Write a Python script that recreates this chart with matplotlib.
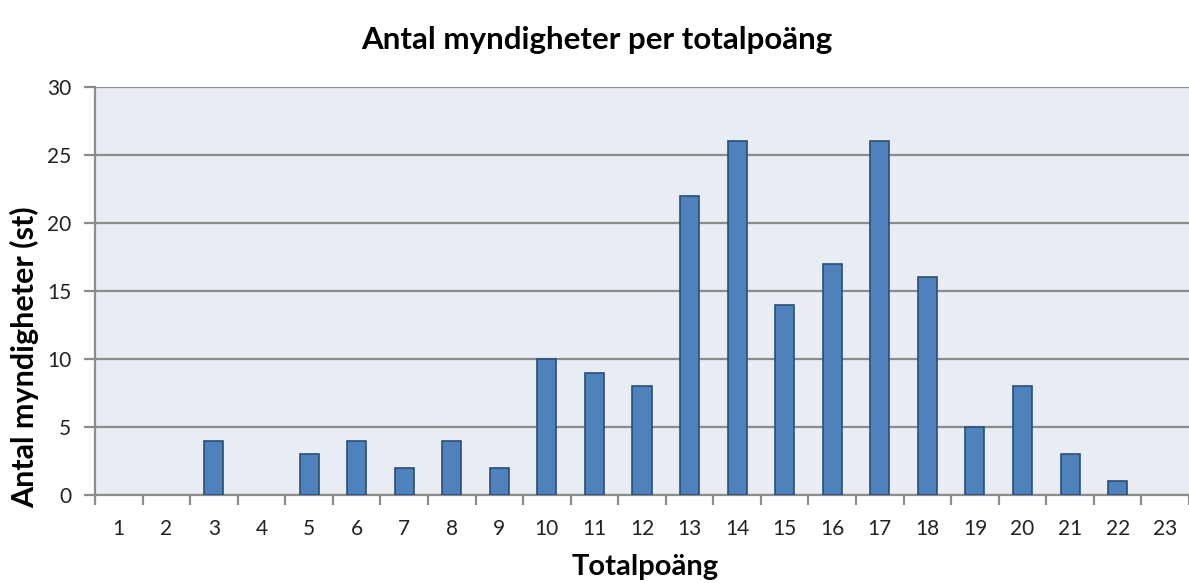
import matplotlib.pyplot as plt
import numpy as np

# data
poang = list(range(1, 24))
antal = [0, 0, 4, 0, 3, 4, 2, 4, 2, 10, 9, 8, 22, 26, 14, 17, 26, 16, 5, 8, 3, 1, 0]
y_ticks = [0, 5, 10, 15, 20, 25, 30]

plt.rcParams['font.family'] = ['Lato', 'DejaVu Sans']

fig = plt.figure(figsize=(11.89, 5.83), dpi=100)
ax = fig.add_axes([95 / 1189, 1 - 495 / 583, 1 - 95 / 1189, 408 / 583])
ax.set_facecolor('#e8ecf3')

# zero categories have no bar in the original
x_nz = [p for p, a in zip(poang, antal) if a > 0]
y_nz = [a for a in antal if a > 0]
ax.bar(x_nz, y_nz, width=0.4, color='#4f81bd', edgecolor='#2c4d75', linewidth=1.2, zorder=3)

ax.set_ylim(0, 30)
ax.set_xlim(0.5, 0.5 + 1094 / 47.9)
ax.set_yticks(y_ticks)
ax.yaxis.grid(True, color='#8c8c8c', linewidth=1.6, zorder=1)

# category labels centred, tick marks between categories
ax.set_xticks(poang)
ax.set_xticklabels([str(p) for p in poang], fontsize=15, color='#222222')
ax.tick_params(axis='x', length=0, pad=17)
ax.set_xticks(np.arange(0.5, 24, 1), minor=True)
ax.tick_params(axis='x', which='minor', length=7, width=1.6, color='#8c8c8c', direction='out')
ax.tick_params(axis='y', length=8, width=1.6, color='#8c8c8c', labelsize=15, labelcolor='#222222', pad=9)

for s in ['top', 'right']:
    ax.spines[s].set_visible(False)
ax.spines['left'].set_color('#8c8c8c')
ax.spines['left'].set_linewidth(1.6)
ax.spines['bottom'].set_color('#8c8c8c')
ax.spines['bottom'].set_linewidth(1.6)

fig.text(0.502, 0.931, 'Antal myndigheter per totalpoäng', fontsize=22.5, fontweight='bold',
         ha='center', va='center')
fig.text(645 / 1189, 1 - 567 / 583, 'Totalpoäng', fontsize=21, fontweight='bold',
         ha='center', va='center')
fig.text(25 / 1189, 1 - 357 / 583, 'Antal myndigheter (st)', fontsize=22, fontweight='bold',
         ha='center', va='center', rotation=90)

fig.savefig('out.png', dpi=100)
